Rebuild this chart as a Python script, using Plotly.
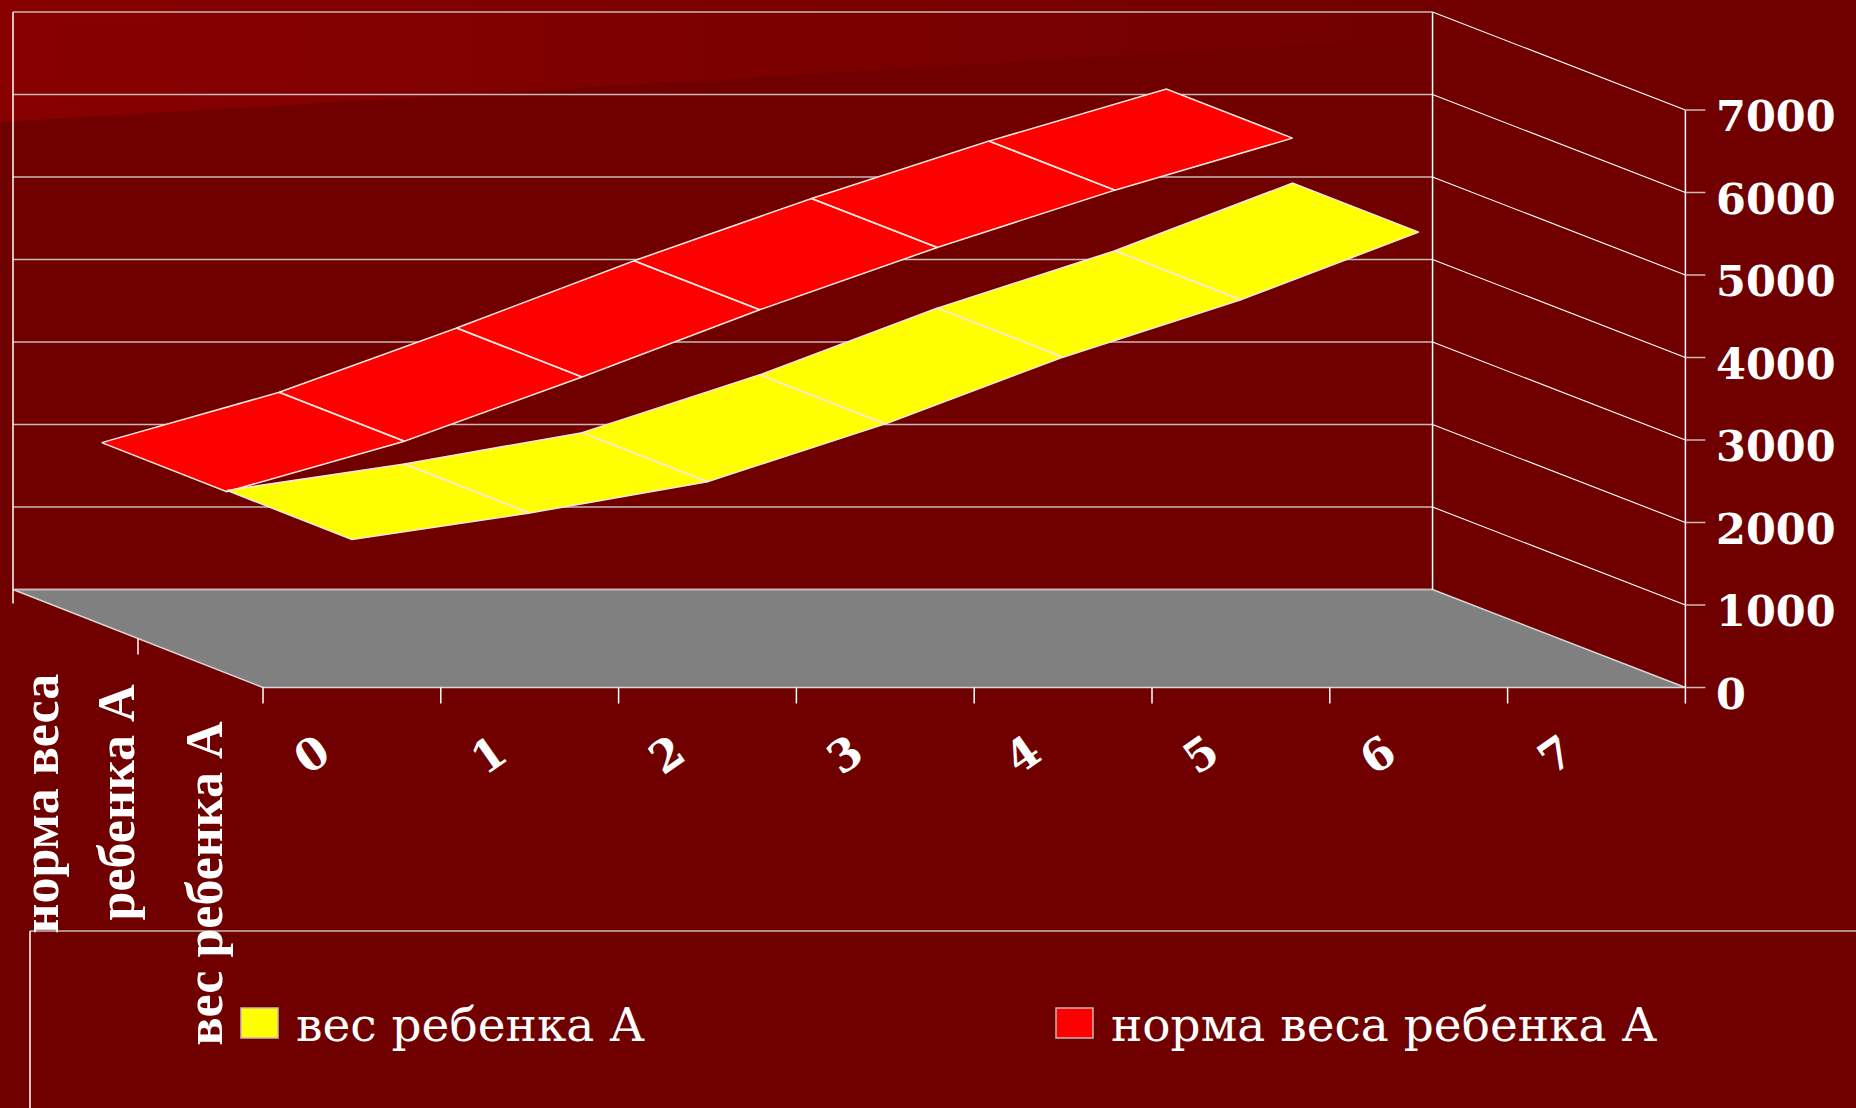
import plotly.graph_objects as go

# Chart data
months = [0, 1, 2, 3, 4, 5, 6]
category_labels = ["0", "1", "2", "3", "4", "5", "6", "7"]
value_ticks = [0, 1000, 2000, 3000, 4000, 5000, 6000, 7000]
norm_weight = [1780, 2390, 3170, 3985, 4740, 5435, 6065]
child_weight = [1795, 2115, 2495, 3195, 4005, 4700, 5520]
series_names = ["вес ребенка А", "норма веса ребенка А"]
depth_labels = ["вес ребенка А", "норма веса", "ребенка А"]

# Canvas and oblique projection settings
WIDTH, HEIGHT = 1856, 1108
ORIGIN_X, ORIGIN_Y = 263.0, 687.5
PX_PER_CATEGORY = 177.8
PX_PER_VALUE = 0.0825
DEPTH_DX = -125.0 / PX_PER_CATEGORY
DEPTH_DY = 49.0 / PX_PER_VALUE
DEPTH_SHRINK = 0.001
N_CATEGORIES = len(category_labels)
N_SERIES = len(series_names)

BG = "#700000"
WHITE = "#ffffff"
GRID = "#c8b8b8"
SERIF = "Liberation Serif"
WIDE_SERIF = "DejaVu Serif"


def project(cat, value, depth=0.0):
    return cat * (1 - depth * DEPTH_SHRINK) + depth * DEPTH_DX, value + depth * DEPTH_DY


def px(x):
    return (x - ORIGIN_X) / PX_PER_CATEGORY


def py(y):
    return (ORIGIN_Y - y) / PX_PER_VALUE


def polyline(points):
    xs, ys = [], []
    for chunk in points:
        for cat, value, depth in chunk:
            x, y = project(cat, value, depth)
            xs.append(x)
            ys.append(y)
        xs.append(None)
        ys.append(None)
    return xs, ys


def add_lines(fig, chunks, color, width):
    xs, ys = polyline(chunks)
    fig.add_trace(go.Scatter(x=xs, y=ys, mode="lines", hoverinfo="skip",
                             line=dict(color=color, width=width)))


def add_ribbon(fig, values, depth_front, color):
    chunks = []
    for i in range(len(values) - 1):
        c0, c1 = months[i] + 0.5, months[i + 1] + 0.5
        chunks.append([
            (c0, values[i], depth_front + 1),
            (c1, values[i + 1], depth_front + 1),
            (c1, values[i + 1], depth_front),
            (c0, values[i], depth_front),
            (c0, values[i], depth_front + 1),
        ])
    xs, ys = polyline(chunks)
    fig.add_trace(go.Scatter(x=xs, y=ys, mode="lines", fill="toself", fillcolor=color,
                             hoverinfo="skip", line=dict(color="#ffe8e0", width=1.5)))


fig = go.Figure()

# Lighter sheen across the top of the slide
fig.add_trace(go.Scatter(
    x=[px(0), px(WIDTH), px(WIDTH), px(0), px(0)],
    y=[py(0), py(0), py(12), py(122), py(0)],
    mode="none", fill="toself", hoverinfo="skip",
    fillgradient=dict(type="horizontal", start=px(0), stop=px(1560),
                      colorscale=[[0, "#880000"], [1, BG]]),
))

# Floor
floor = [(0, 0, 0), (N_CATEGORIES, 0, 0), (N_CATEGORIES, 0, N_SERIES), (0, 0, N_SERIES), (0, 0, 0)]
fx, fy = polyline([floor])
fig.add_trace(go.Scatter(x=fx, y=fy, mode="lines", fill="toself", fillcolor="#808080",
                         hoverinfo="skip", line=dict(color="#d8d8d8", width=1.5)))

# Back wall gridlines and the side wall lines running to the value axis
top = value_ticks[-1]
add_lines(fig, [[(0, v, N_SERIES), (N_CATEGORIES, v, N_SERIES)] for v in value_ticks], GRID, 1.6)
add_lines(fig, [[(N_CATEGORIES, v, N_SERIES), (N_CATEGORIES, v, 0)] for v in value_ticks[1:]], WHITE, 1.1)
add_lines(fig, [[(0, -170, N_SERIES), (0, top, N_SERIES)],
                [(N_CATEGORIES, 0, N_SERIES), (N_CATEGORIES, top, N_SERIES)]], WHITE, 1.5)

# Ribbons, back series first
add_ribbon(fig, norm_weight, 1, "#ff0000")
add_ribbon(fig, child_weight, 0, "#ffff00")

# Value axis with its ticks
tick_dx = 20.0 / PX_PER_CATEGORY
tick_dy = 16.0 / PX_PER_VALUE
add_lines(fig, [[(N_CATEGORIES, -tick_dy, 0), (N_CATEGORIES, top, 0)]], WHITE, 1.5)
xs, ys = [], []
for v in value_ticks:
    xs += [N_CATEGORIES, N_CATEGORIES + tick_dx, None]
    ys += [v, v, None]
fig.add_trace(go.Scatter(x=xs, y=ys, mode="lines", hoverinfo="skip",
                         line=dict(color=GRID, width=1.5)))

# Category and depth axis ticks
add_lines(fig, [[(c, 0, 0), (c, -tick_dy, 0)] for c in range(N_CATEGORIES)], WHITE, 1.5)
add_lines(fig, [[(0, 0, 1), (0, -tick_dy, 1)]], WHITE, 1.5)

annotations = []


def text_at(x, y, text, size, family=SERIF, angle=0, xanchor="center", ref="x", yshift=0):
    annotations.append(dict(
        x=x, y=y, xref=ref, yref="y", text=text, showarrow=False, textangle=angle,
        xanchor=xanchor, yanchor="middle", yshift=yshift,
        font=dict(family=family, size=size, color=WHITE), borderpad=0, borderwidth=0,
    ))


for v in value_ticks:
    text_at(px(1716), v, f"<b>{v}</b>", 43, WIDE_SERIF, xanchor="left", yshift=-6)

for i, label in enumerate(category_labels):
    text_at(i + 0.27, py(754), f"<b>{label}</b>", 44, WIDE_SERIF, angle=-35)

# Series names along the depth axis
for label, x, y in zip(depth_labels, [203.5, 39.5, 115.5], [884, 804, 802]):
    text_at(px(x), py(y), f"<b>{label}</b>", 52, SERIF, angle=-90)

# Legend frame, keys and labels
shapes = [
    dict(type="line", xref="paper", yref="paper", x0=30 / WIDTH, x1=1, y0=1 - 931 / HEIGHT, y1=1 - 931 / HEIGHT,
         line=dict(color=GRID, width=1.5)),
    dict(type="line", xref="paper", yref="paper", x0=30 / WIDTH, x1=30 / WIDTH, y0=1 - 931 / HEIGHT, y1=0,
         line=dict(color=WHITE, width=1.5)),
]
legend_colors = ["#ffff00", "#ff0000"]
for name, color, key_x, text_x in zip(series_names, legend_colors, [241, 1056], [296, 1111]):
    shapes.append(dict(type="rect", xref="paper", yref="paper",
                       x0=key_x / WIDTH, x1=(key_x + 37) / WIDTH,
                       y0=1 - 1038 / HEIGHT, y1=1 - 1008 / HEIGHT,
                       fillcolor=color, line=dict(color="#c8b8b8", width=1.5)))
    text_at(px(text_x), py(1024), name, 47, WIDE_SERIF, xanchor="left")

fig.update_layout(
    width=WIDTH, height=HEIGHT,
    margin=dict(l=0, r=0, t=0, b=0),
    paper_bgcolor=BG, plot_bgcolor=BG,
    showlegend=False, hovermode=False,
    xaxis=dict(visible=False, range=[px(0), px(WIDTH)], fixedrange=True),
    yaxis=dict(visible=False, range=[py(HEIGHT), py(0)], fixedrange=True),
    annotations=annotations, shapes=shapes,
)

fig.write_html("out.html")
